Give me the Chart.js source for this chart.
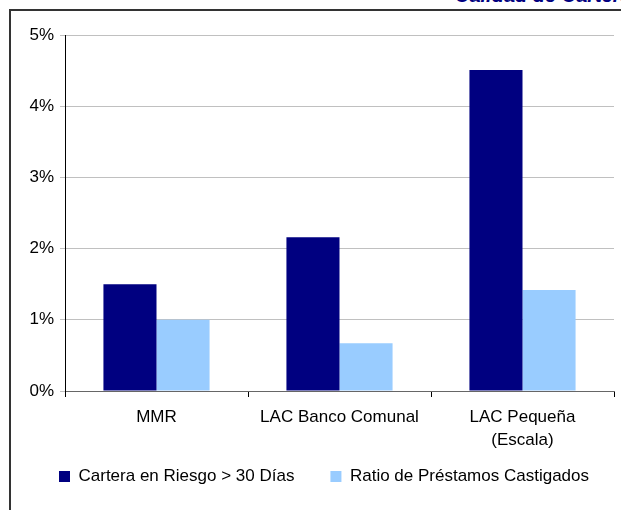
<!DOCTYPE html>
<html>
<head>
<meta charset="utf-8">
<script src="https://cdn.jsdelivr.net/npm/chart.js@4/dist/chart.umd.min.js"></script>
<style>
  html, body { margin: 0; padding: 0; background: #fff; }
  body { width: 621px; height: 510px; position: relative; overflow: hidden; font-family: "Liberation Sans", Arial, sans-serif; }
  #wrap { position: absolute; left: 0; top: 0; width: 621px; height: 510px; }
  .rule { position: absolute; background: #333; }
  #title { position: absolute; left: 455px; top: -15px; font: italic bold 20px "Liberation Sans", Arial, sans-serif; line-height: 20px; color: #000080; white-space: nowrap; }
</style>
</head>
<body>
<div id="title">Calidad de Cartera</div>
<div class="rule" style="left:9px; top:9px; width:612px; height:2px;"></div>
<div class="rule" style="left:9px; top:9px; width:2px; height:501px;"></div>
<div id="wrap"><canvas id="barChart" width="621" height="510"></canvas></div>
<script>
// Calidad de cartera por segmento
var categories = ['MMR', 'LAC Banco Comunal', ['LAC Pequeña', '(Escala)']];
var carteraRiesgo = [1.5, 2.16, 4.51];
var ratioCastigados = [1.0, 0.67, 1.42];
var yTicks = [0, 1, 2, 3, 4, 5];

Chart.defaults.font.family = '"Liberation Sans", Arial, sans-serif';
Chart.defaults.font.size = 17;
Chart.defaults.color = '#000';

// nudge the legend right and up, like the original
var shiftLegend = {
    id: 'shiftLegend',
    afterLayout: function (chart) {
        var lg = chart.legend;
        lg.left += 17;
        lg.right += 17;
        lg.top -= 19;
        lg.bottom -= 19;
    }
};

var ctx = document.getElementById('barChart').getContext('2d');
var barChart = new Chart(ctx, {
    type: 'bar',
    data: {
        labels: categories,
        datasets: [{
            label: 'Cartera en Riesgo > 30 Días',
            data: carteraRiesgo,
            backgroundColor: '#000080'
        }, {
            label: 'Ratio de Préstamos Castigados',
            data: ratioCastigados,
            backgroundColor: '#99ccff'
        }]
    },
    options: {
        responsive: false,
        animation: false,
        layout: {
            padding: { left: 0, right: 7, top: 35, bottom: -4 }
        },
        barPercentage: 1,
        categoryPercentage: 0.58,
        plugins: {
            legend: {
                position: 'bottom',
                labels: {
                    boxWidth: 11,
                    boxHeight: 11,
                    padding: 26
                }
            },
            tooltip: { enabled: false }
        },
        scales: {
            x: {
                grid: {
                    display: true,
                    drawOnChartArea: false,
                    color: '#000',
                    tickLength: 6
                },
                border: { color: '#666', width: 1 },
                ticks: { padding: 9, maxRotation: 0, font: { lineHeight: 1.35 } },
                afterFit: function (scale) { scale.height = 60; }
            },
            y: {
                min: 0,
                max: 5,
                afterBuildTicks: function (scale) {
                    scale.ticks = yTicks.map(function (v) { return { value: v }; });
                },
                grid: {
                    color: '#c0c0c0',
                    tickLength: 5
                },
                border: { color: '#000', width: 1 },
                ticks: {
                    padding: 6,
                    callback: function (v) { return v + '%'; }
                },
                afterFit: function (scale) { scale.width = 65; }
            }
        }
    },
    plugins: [shiftLegend]
});
// wider gap between the two legend items, set after the first fit so they stay on one line
barChart.legend.options.labels.padding = 36;
barChart.update();
</script>
</body>
</html>
